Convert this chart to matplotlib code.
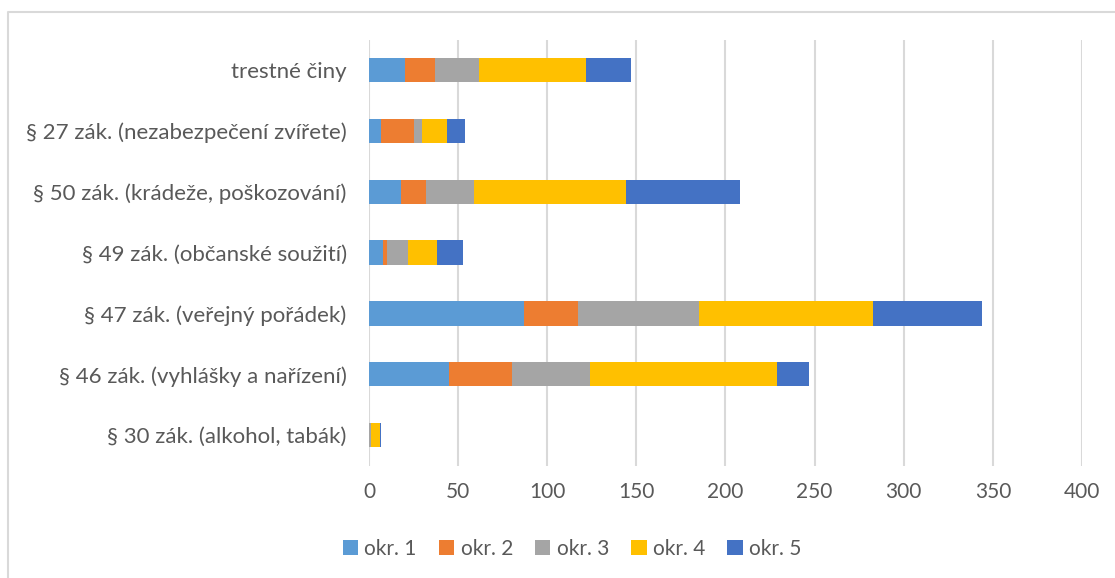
import numpy as np
import matplotlib
matplotlib.use("Agg")
import matplotlib.pyplot as plt
from matplotlib.lines import Line2D

plt.rcParams['font.family'] = ['Lato', 'DejaVu Sans']

# categories, top to bottom as in the chart
categories = ["trestné činy",
              "§ 27 zák. (nezabezpečení zvířete)",
              "§ 50 zák. (krádeže, poškozování)",
              "§ 49 zák. (občanské soužití)",
              "§ 47 zák. (veřejný pořádek)",
              "§ 46 zák. (vyhlášky a nařízení)",
              "§ 30 zák. (alkohol, tabák)"]

okr1 = [20, 7, 18, 8, 87, 45, 0]
okr2 = [17, 18, 14, 2, 30, 35, 0]
okr3 = [25, 5, 27, 12, 68, 44, 1]
okr4 = [60, 14, 85, 16, 98, 105, 5]
okr5 = [25, 10, 64, 15, 61, 18, 1]

series = [okr1, okr2, okr3, okr4, okr5]
names = ["okr. 1", "okr. 2", "okr. 3", "okr. 4", "okr. 5"]
colors = ["#5B9BD5", "#ED7D31", "#A5A5A5", "#FFC000", "#4472C4"]
xticks = [0, 50, 100, 150, 200, 250, 300, 350, 400]

txt = "#595959"

fig = plt.figure(figsize=(11.15, 5.78), dpi=100)
ax = fig.add_axes([0.3309, 0.1946, 0.6395, 0.7370])

y = np.arange(len(categories))
left = np.zeros(len(categories))
for vals, name, c in zip(series, names, colors):
    ax.barh(y, vals, left=left, height=0.4, color=c, label=name, zorder=3)
    left += np.array(vals)

ax.set_ylim(len(categories) - 0.5, -0.5)
ax.set_xlim(0, 400)
ax.set_xticks(xticks)
ax.set_yticks(y)
ax.set_yticklabels(categories)
ax.tick_params(axis='both', length=0, colors=txt)
ax.tick_params(axis='x', pad=12, labelsize=15)
ax.tick_params(axis='y', pad=16, labelsize=16)
ax.grid(axis='x', color='#D9D9D9', linewidth=1.5, zorder=0)
for s in ax.spines.values():
    s.set_visible(False)

fig.legend(loc='center', bbox_to_anchor=(0.513, 0.05), ncol=5, frameon=False,
           fontsize=15, labelcolor=txt, handlelength=0.75, handleheight=0.75,
           handletextpad=0.3, columnspacing=1.05)

# chart border (left and top edges visible)
fig.add_artist(Line2D([7.5 / 1115, 7.5 / 1115, 1.0], [0.0, 1 - 12 / 578, 1 - 12 / 578],
                      transform=fig.transFigure, color='#D9D9D9', linewidth=1.5))

fig.savefig("out.png", dpi=100)
